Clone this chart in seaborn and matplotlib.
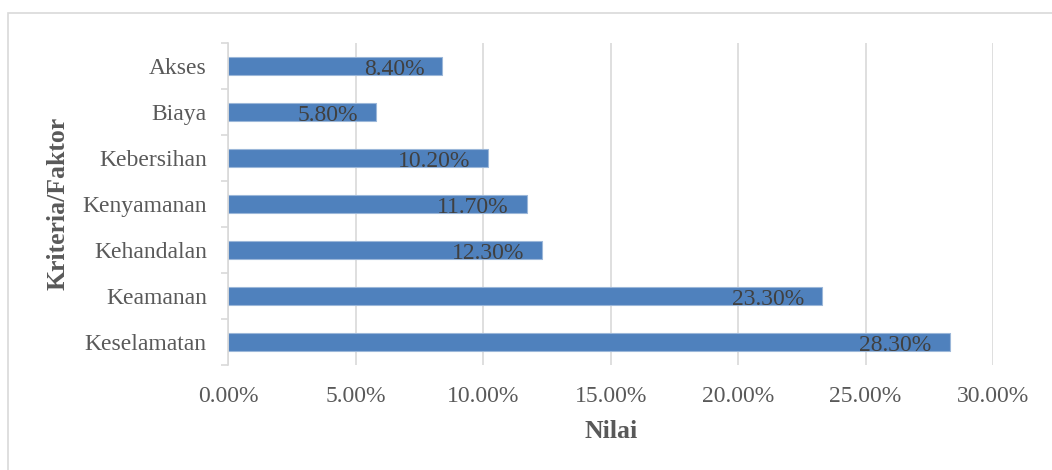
import matplotlib
matplotlib.use("Agg")
import matplotlib.pyplot as plt
import matplotlib.patches as mpatches
import matplotlib.ticker as mticker
import numpy as np
import seaborn as sns

categories = ["Akses", "Biaya", "Kebersihan", "Kenyamanan", "Kehandalan", "Keamanan", "Keselamatan"]
values = [0.084, 0.058, 0.102, 0.117, 0.123, 0.233, 0.283]
x_ticks = [0.0, 0.05, 0.10, 0.15, 0.20, 0.25, 0.30]
x_label = "Nilai"
y_label = "Kriteria/Faktor"

sns.set_style("white")
plt.rcParams["font.family"] = ["Liberation Serif", "DejaVu Serif"]

W, H = 1052, 470
fig = plt.figure(figsize=(W / 100, H / 100), dpi=100)
ax_left, ax_right, ax_top, ax_bot = 228.3, 993.0, 42.7, 365.0
ax = fig.add_axes([ax_left / W, 1 - ax_bot / H, (ax_right - ax_left) / W, (ax_bot - ax_top) / H])

sns.barplot(x=values, y=categories, orient="h", color="#4F81BD", width=0.4,
            saturation=1, edgecolor="#9BB7D9", linewidth=0.8, ax=ax, zorder=3)

ax.set_xlim(0, 0.30)
ax.set_ylim(6.5, -0.5)
ax.set_xticks(x_ticks)
ax.xaxis.set_major_formatter(mticker.FuncFormatter(lambda v, p: f"{v*100:.2f}%"))

grid_c = "#D9D9D9"
ax.grid(axis="x", color=grid_c, linewidth=1.2, zorder=0)
ax.grid(axis="y", visible=False)
for s in ["top", "right", "bottom"]:
    ax.spines[s].set_visible(False)
ax.spines["left"].set_color(grid_c)
ax.spines["left"].set_linewidth(1.2)
ax.spines["left"].set_zorder(4)

ax.set_yticks(np.arange(-0.5, len(categories), 1), minor=True)
ax.tick_params(axis="y", which="minor", length=5, width=1.2, color=grid_c, left=True)
ax.tick_params(axis="y", which="major", length=0, pad=15.5, labelsize=17, labelcolor="#595959")
ax.tick_params(axis="x", which="major", length=0, pad=14.8, labelsize=17, labelcolor="#595959")

for p, v in zip(ax.patches, values):
    ax.annotate(f"{v*100:.2f}%", xy=(p.get_x() + p.get_width(), p.get_y() + p.get_height() / 2),
                xytext=(-18, -1.5), textcoords="offset pixels", ha="right", va="center_baseline",
                fontsize=17, color="#404040", zorder=5)

ax.set_xlabel(x_label, fontsize=18.5, fontweight="bold", color="#595959")
ax.set_ylabel(y_label, fontsize=18.5, fontweight="bold", color="#595959")
ax.xaxis.label.set_verticalalignment("center")
ax.yaxis.label.set_verticalalignment("center")
ax.xaxis.set_label_coords(0.5, (ax_bot - 431.7) / (ax_bot - ax_top))
ax.yaxis.set_label_coords((58 - ax_left) / (ax_right - ax_left), 0.5)

border = mpatches.Rectangle((8 / W, -0.1), 1.2, 1 - 13 / H + 0.1, transform=fig.transFigure,
                            fill=False, edgecolor=grid_c, linewidth=1.2, clip_on=False)
fig.patches.append(border)

fig.savefig("out.png", dpi=100, facecolor="white")
